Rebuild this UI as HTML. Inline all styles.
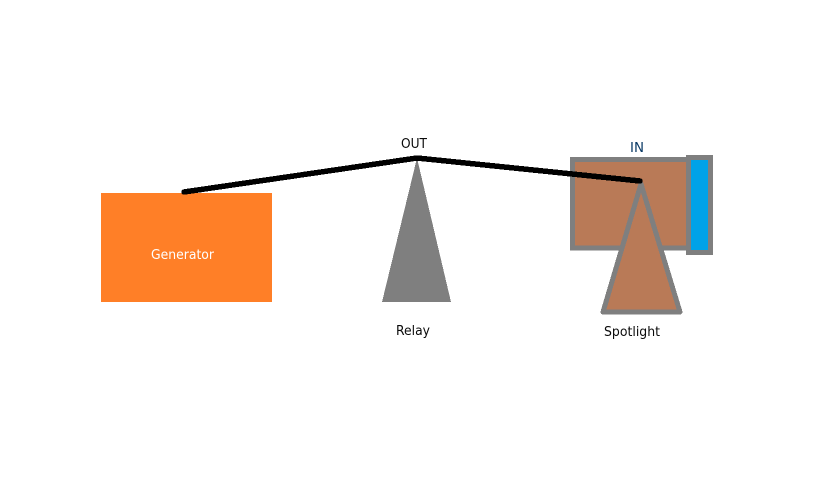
<!DOCTYPE html>
<html>
<head>
<meta charset="utf-8">
<style>
html,body{margin:0;padding:0;background:#fff;width:835px;height:483px;overflow:hidden}
svg{display:block}
text{font-family:"DejaVu Sans","Liberation Sans",sans-serif;font-size:13px;fill:#0a0a0a}
</style>
</head>
<body>
<svg width="835" height="483" viewBox="0 0 835 483" xmlns="http://www.w3.org/2000/svg">
<rect width="835" height="483" fill="#fff"/>
<rect x="101" y="193" width="171" height="109" fill="#FF7F27"/>
<text x="151" y="259" textLength="63" lengthAdjust="spacingAndGlyphs" style="fill:#fff">Generator</text>
<polygon points="417,158 451,302 382,302" fill="#7F7F7F" shape-rendering="crispEdges"/>
<rect x="572.5" y="159.5" width="116" height="88.5" fill="#B97A57" stroke="#7F7F7F" stroke-width="5"/>
<rect x="688.5" y="157.5" width="22" height="95" fill="#00A2E8" stroke="#7F7F7F" stroke-width="5"/>
<polygon points="641,184 680,312 603,312" fill="#B97A57" stroke="#7F7F7F" stroke-width="5" stroke-linejoin="round" shape-rendering="crispEdges"/>
<polyline points="184,192 417,158 640,181" fill="none" stroke="#000" stroke-width="5.5" stroke-linecap="round" stroke-linejoin="round" shape-rendering="crispEdges"/>
<text x="401" y="148" textLength="26" lengthAdjust="spacingAndGlyphs">OUT</text>
<text x="630" y="152" textLength="14" lengthAdjust="spacingAndGlyphs" style="fill:#0b3a66">IN</text>
<text x="396" y="335" textLength="34" lengthAdjust="spacingAndGlyphs">Relay</text>
<text x="604" y="336" textLength="56" lengthAdjust="spacingAndGlyphs">Spotlight</text>
</svg>
</body>
</html>
